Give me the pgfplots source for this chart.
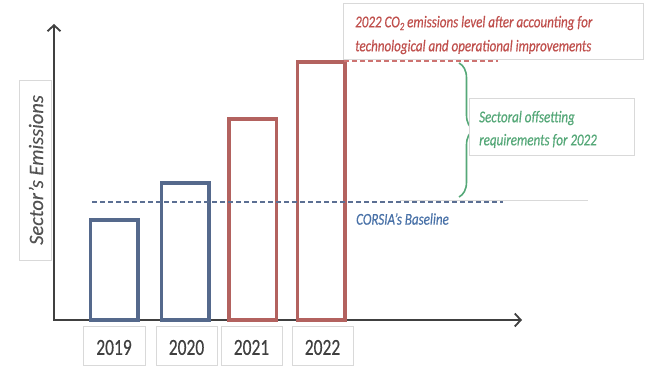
\documentclass[border=0pt]{standalone}
\usepackage{pgfplots}
\pgfplotsset{compat=1.18}
\usepackage{fontspec}
\setmainfont{Carlito}
\newfontfamily\annot{Carlito}[FakeStretch=0.79, FakeBold=0.4]
\newfontfamily\yearfont{Carlito}[FakeStretch=0.76, FakeBold=0.4]
\newfontfamily\ylabfont{Carlito}[FakeBold=0.3]
\usetikzlibrary{arrows.meta,decorations.pathreplacing}
\definecolor{barblue}{HTML}{55698C}
\definecolor{barred}{HTML}{B3625F}
\definecolor{redtext}{HTML}{C0504D}
\definecolor{greentext}{HTML}{55A878}
\definecolor{bluetext}{HTML}{4A72A8}
\definecolor{axisgray}{HTML}{404040}
\definecolor{boxgray}{HTML}{D9D9D9}
\definecolor{dashblue}{HTML}{5B6F93}
\begin{document}
\begin{tikzpicture}
\begin{axis}[
  scale only axis, width=650pt, height=374pt,
  xmin=0, xmax=650, ymin=-54, ymax=320,
  hide axis, clip=false,
  ybar, bar width=47.5, bar shift=0pt,
]
% invisible frame
\path (axis cs:0,-54) rectangle (axis cs:650,320);
% axes
\draw[axisgray, line width=1.8pt, -{Straight Barb[length=6pt,width=13pt,line width=1.8pt]}] (axis cs:54,0) -- (axis cs:54,296);
\draw[axisgray, line width=1.8pt, -{Straight Barb[length=6pt,width=13pt,line width=1.8pt]}] (axis cs:53.1,0) -- (axis cs:522,0);
% bars
\addplot[draw=barblue, line width=3.5pt, fill=white] coordinates {(114,100) (185,137)};
\addplot[draw=barred, line width=3.5pt, fill=white] coordinates {(252.5,201) (321,258)};
% baseline
\draw[boxgray, line width=1pt] (axis cs:400,119) -- (axis cs:588,119);
\draw[dashblue, line width=1.8pt, dash pattern=on 5pt off 3pt] (axis cs:92,118) -- (axis cs:503,118);
\node[anchor=west, font=\annot\itshape\fontsize{16.5}{20}\selectfont, text=bluetext, inner sep=0pt] at (axis cs:356,101) {CORSIA’s Baseline};
% red dashed level
\draw[redtext!80, line width=1.6pt, dash pattern=on 5pt off 3pt] (axis cs:344,259) -- (axis cs:498,259);
% brace
\draw[greentext, line width=1.6pt, decorate, decoration={brace, amplitude=15pt, aspect=0.5}] (axis cs:459,257) -- (axis cs:459,123);
% top box
\draw[boxgray, line width=0.8pt, fill=white] (axis cs:343,317) rectangle (axis cs:643,261);
\node[anchor=west, font=\annot\itshape\fontsize{16.5}{20}\selectfont, text=redtext, inner sep=0pt] at (axis cs:355,297) {2022 CO\raisebox{-0.35ex}{\fontsize{11}{12}\selectfont 2} emissions level after accounting for};
\node[anchor=west, font=\annot\itshape\fontsize{16.5}{20}\selectfont, text=redtext, inner sep=0pt] at (axis cs:355,273) {technological and operational improvements};
% green box
\draw[boxgray, line width=0.8pt, fill=white] (axis cs:469,222) rectangle (axis cs:634,165);
\node[anchor=west, font=\annot\itshape\fontsize{16.5}{20}\selectfont, text=greentext, inner sep=0pt] at (axis cs:479,202) {Sectoral offsetting};
\node[anchor=west, font=\annot\itshape\fontsize{16.5}{20}\selectfont, text=greentext, inner sep=0pt] at (axis cs:479,179) {requirements for 2022};
% y label box
\draw[boxgray, line width=0.8pt] (axis cs:19,240) rectangle (axis cs:51,60);
\node[rotate=90, font=\ylabfont\itshape\fontsize{20.5}{24}\selectfont, text=axisgray!90, inner sep=0pt] at (axis cs:36,150) {Sector’s Emissions};
% year boxes
\draw[boxgray, line width=0.8pt] (axis cs:83,-6) rectangle (axis cs:145,-45);
\draw[boxgray, line width=0.8pt] (axis cs:156,-6) rectangle (axis cs:217,-45);
\draw[boxgray, line width=0.8pt] (axis cs:221,-6) rectangle (axis cs:282,-45);
\draw[boxgray, line width=0.8pt] (axis cs:292,-6) rectangle (axis cs:353,-45);
\node[font=\yearfont\fontsize{23}{26}\selectfont, text=axisgray] at (axis cs:114,-27.5) {2019};
\node[font=\yearfont\fontsize{23}{26}\selectfont, text=axisgray] at (axis cs:186.5,-27.5) {2020};
\node[font=\yearfont\fontsize{23}{26}\selectfont, text=axisgray] at (axis cs:251.5,-27.5) {2021};
\node[font=\yearfont\fontsize{23}{26}\selectfont, text=axisgray] at (axis cs:322.5,-27.5) {2022};
\end{axis}
\end{tikzpicture}
\end{document}
